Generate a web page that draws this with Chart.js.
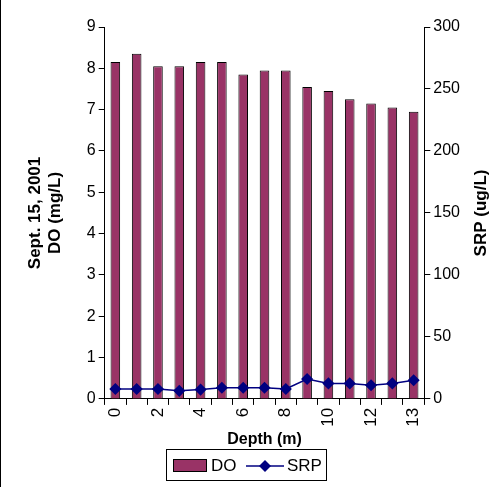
<!DOCTYPE html>
<html><head>
<script src="https://cdn.jsdelivr.net/npm/chart.js@4"></script>
<style>
html,body{margin:0;background:#fff}
#wrap{position:relative;width:493px;height:487px;border-left:1px solid #000;box-sizing:border-box}
</style></head><body>
<div id="wrap"><canvas id="c"></canvas></div>
<script>
const depths = ['0','1','2','3','4','5','6','7','8','9','10','11','12','12.5','13'];
const doValues = [8.15, 8.35, 8.05, 8.05, 8.15, 8.15, 7.85, 7.95, 7.95, 7.55, 7.45, 7.25, 7.15, 7.05, 6.95];
const srpValues = [8, 8, 8, 6.5, 7.5, 9, 9, 9, 8, 16, 12.5, 12.5, 11, 12.5, 15];
const shownLabels = ['0','2','4','6','8','10','12','13'];

Chart.defaults.font.family = "'Liberation Sans', Arial, sans-serif";
Chart.defaults.color = '#000';
Chart.defaults.font.size = 16;

// custom legend box + rotated right-axis title
const extras = {
  id: 'extras',
  afterDraw(chart) {
    const c = chart.ctx, a = chart.chartArea;
    c.save();
    c.strokeStyle = '#000'; c.lineWidth = 1;
    c.strokeRect(165.5, 449.5, 160, 31);
    c.fillStyle = '#993366'; c.fillRect(172, 459, 34, 13); c.strokeRect(172.5, 459.5, 33, 12);
    c.font = "17px 'Liberation Sans', Arial"; c.fillStyle = '#000'; c.textBaseline = 'middle';
    c.fillText('DO', 210, 466);
    c.strokeStyle = '#000080'; c.lineWidth = 1.5;
    c.beginPath(); c.moveTo(245, 466); c.lineTo(283, 466); c.stroke();
    c.fillStyle = '#000080'; c.beginPath();
    c.moveTo(264, 460); c.lineTo(270, 466); c.lineTo(264, 472); c.lineTo(258, 466); c.closePath(); c.fill();
    c.fillStyle = '#000'; c.fillText('SRP', 286, 466);
    c.translate(480, (a.top + a.bottom) / 2); c.rotate(-Math.PI / 2);
    c.font = "bold 17px 'Liberation Sans', Arial"; c.textAlign = 'center';
    c.fillText('SRP (ug/L)', 0, 0);
    c.restore();
  }
};

new Chart(document.getElementById('c').getContext('2d'), {
  data: {
    labels: depths,
    datasets: [
      { type: 'line', label: 'SRP', data: srpValues, yAxisID: 'y2', borderColor: '#000080', backgroundColor: '#000080',
        borderWidth: 1.5, pointStyle: 'rectRot', pointRadius: 5, order: 0 },
      { type: 'bar', label: 'DO', data: doValues, yAxisID: 'y', backgroundColor: '#993366', borderColor: '#000',
        borderWidth: 1, barPercentage: 0.45, categoryPercentage: 1, order: 1 },
    ],
  },
  options: {
    responsive: true, maintainAspectRatio: false, animation: false,
    layout: { padding: { top: 27, right: 30, left: 24, bottom: 38 } },
    plugins: { tooltip: { enabled: false }, legend: { display: false } },
    scales: {
      x: { grid: { drawOnChartArea: false, tickLength: 6, color: '#000' }, border: { color: '#000' },
        ticks: { autoSkip: false, maxRotation: 90, minRotation: 90, font: { size: 17 } ,
          callback: function (v) { const l = this.getLabelForValue(v); return shownLabels.includes(l) ? l : ''; } },
        title: { display: true, text: 'Depth (m)', font: { size: 16, weight: 'bold' }, padding: 0 } },
      y: { min: 0, max: 9, position: 'left', grid: { drawOnChartArea: false, tickLength: 6, color: '#000' }, border: { color: '#000' },
        ticks: { stepSize: 1 },
        title: { display: true, text: ['Sept. 15, 2001', 'DO (mg/L)'], font: { size: 17, weight: 'bold' }, padding: { top: 0, bottom: 18 } } },
      y2: { min: 0, max: 300, position: 'right', grid: { drawOnChartArea: false, tickLength: 6, color: '#000' }, border: { color: '#000' },
        ticks: { stepSize: 50 } },
    },
  },
  plugins: [extras],
});
</script></body></html>
